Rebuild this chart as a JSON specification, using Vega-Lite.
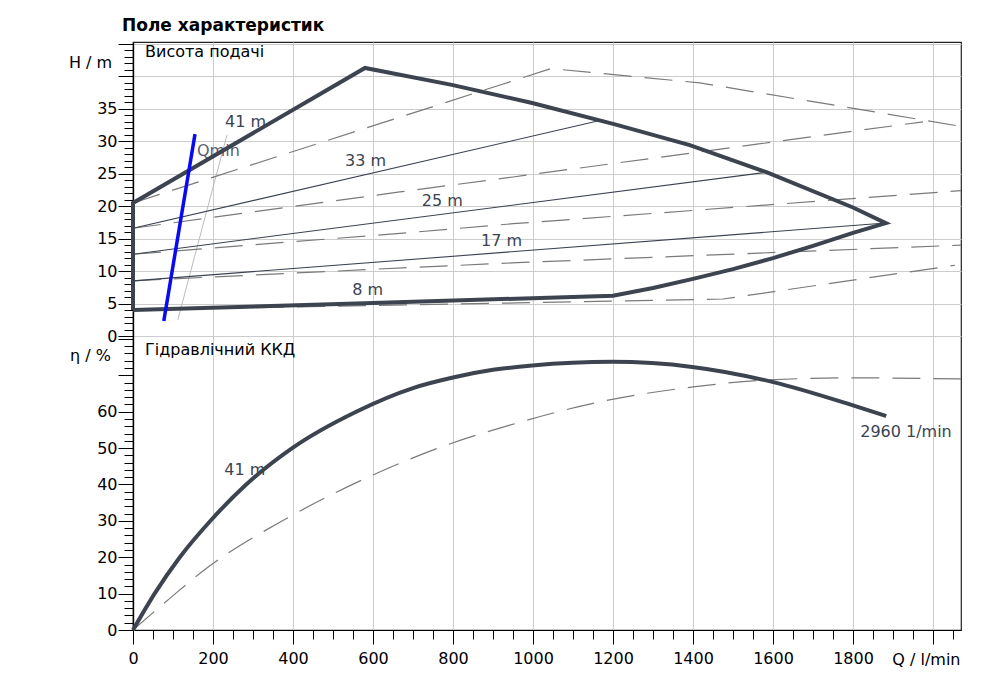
{
  "$schema": "https://vega.github.io/schema/vega-lite/v6.json",
  "width": 828,
  "height": 588,
  "autosize": "none",
  "padding": {"left": 133, "top": 42, "right": 44, "bottom": 66},
  "title": {
    "text": "Поле характеристик",
    "anchor": "start",
    "frame": "group",
    "font": "DejaVu Sans",
    "fontSize": 17,
    "fontWeight": "bold",
    "color": "#000000",
    "baseline": "alphabetic",
    "dx": -11,
    "dy": 24,
    "offset": 12
  },
  "datasets": {
    "outline": [
      {"o": 1, "q": 0, "h": 4.0},
      {"o": 2, "q": 0, "h": 20.5},
      {"o": 3, "q": 580, "h": 41.3},
      {"o": 4, "q": 797, "h": 38.7},
      {"o": 5, "q": 998, "h": 35.9},
      {"o": 6, "q": 1205, "h": 32.6},
      {"o": 7, "q": 1392, "h": 29.4},
      {"o": 8, "q": 1585, "h": 25.2},
      {"o": 9, "q": 1800, "h": 19.8},
      {"o": 10, "q": 1882, "h": 17.4},
      {"o": 11, "q": 1800, "h": 15.9},
      {"o": 12, "q": 1700, "h": 13.9},
      {"o": 13, "q": 1600, "h": 12.0},
      {"o": 14, "q": 1500, "h": 10.3},
      {"o": 15, "q": 1400, "h": 8.8},
      {"o": 16, "q": 1300, "h": 7.4},
      {"o": 17, "q": 1200, "h": 6.2},
      {"o": 18, "q": 600, "h": 5.1},
      {"o": 19, "q": 0, "h": 4.0}
    ],
    "thin": [
      {"s": "a", "q": 0, "h": 16.6},
      {"s": "a", "q": 1167, "h": 33.2},
      {"s": "b", "q": 0, "h": 12.6},
      {"s": "b", "q": 1580, "h": 25.2},
      {"s": "c", "q": 0, "h": 8.5},
      {"s": "c", "q": 1882, "h": 17.4}
    ],
    "dashed": [
      {"s": "d1", "q": 0, "h": 20.5},
      {"s": "d1", "q": 1045, "h": 41.2},
      {"s": "d1", "q": 1417, "h": 39.0},
      {"s": "d1", "q": 1750, "h": 35.6},
      {"s": "d1", "q": 2070, "h": 32.3},
      {"s": "d2", "q": 0, "h": 16.6},
      {"s": "d2", "q": 667, "h": 22.2},
      {"s": "d2", "q": 950, "h": 24.5},
      {"s": "d2", "q": 1975, "h": 33.0},
      {"s": "d3", "q": 0, "h": 12.6},
      {"s": "d3", "q": 685, "h": 15.9},
      {"s": "d3", "q": 950, "h": 17.3},
      {"s": "d3", "q": 2070, "h": 22.4},
      {"s": "d4", "q": 0, "h": 8.5},
      {"s": "d4", "q": 675, "h": 10.5},
      {"s": "d4", "q": 960, "h": 11.3},
      {"s": "d4", "q": 2070, "h": 14.0},
      {"s": "d5", "q": 0, "h": 4.0},
      {"s": "d5", "q": 960, "h": 5.1},
      {"s": "d5", "q": 1475, "h": 5.7},
      {"s": "d5", "q": 2055, "h": 10.9}
    ],
    "qminGray": [
      {"q": 112, "h": 2.5},
      {"q": 235, "h": 31.0}
    ],
    "qmin": [
      {"q": 77, "h": 2.3},
      {"q": 155, "h": 31.1}
    ],
    "topLabels": [
      {"q": 230, "h": 33.0, "t": "41 m"},
      {"q": 530, "h": 27.0, "t": "33 m"},
      {"q": 722, "h": 20.8, "t": "25 m"},
      {"q": 870, "h": 14.6, "t": "17 m"},
      {"q": 548, "h": 7.1, "t": "8 m"}
    ],
    "qminLabel": [
      {"q": 160, "h": 28.5, "t": "Qmin"}
    ],
    "topTitle": [
      {"q": 30, "h": 43.8, "t": "Висота подачі"}
    ],
    "eff": [
      {"q": 0, "eta": 0},
      {"q": 54, "eta": 10},
      {"q": 117, "eta": 20},
      {"q": 196, "eta": 30.3},
      {"q": 283, "eta": 40},
      {"q": 398, "eta": 50},
      {"q": 558, "eta": 60},
      {"q": 700, "eta": 66.5},
      {"q": 800, "eta": 69.4},
      {"q": 900, "eta": 71.5},
      {"q": 998, "eta": 72.7},
      {"q": 1198, "eta": 73.7},
      {"q": 1398, "eta": 72.3},
      {"q": 1598, "eta": 68.2},
      {"q": 1798, "eta": 61.8},
      {"q": 1883, "eta": 58.8}
    ],
    "effDash": [
      {"q": 0, "eta": 0},
      {"q": 92, "eta": 8.7},
      {"q": 183, "eta": 16.9},
      {"q": 388, "eta": 30.9},
      {"q": 604, "eta": 42.8},
      {"q": 783, "eta": 50.8},
      {"q": 942, "eta": 56.3},
      {"q": 1167, "eta": 62.7},
      {"q": 1400, "eta": 66.8},
      {"q": 1585, "eta": 68.7},
      {"q": 1800, "eta": 69.3},
      {"q": 2070, "eta": 69.0}
    ],
    "bottomLabels": [
      {"q": 228, "eta": 44.0, "t": "41 m"},
      {"q": 1818, "eta": 54.4, "t": "2960 1/min"}
    ],
    "bottomTitle": [
      {"q": 30, "eta": 77.0, "t": "Гідравлічний ККД"}
    ]
  },
  "encoding": {
    "x": {
      "field": "q",
      "type": "quantitative",
      "scale": {"domain": [0, 2070], "nice": false, "zero": false},
      "axis": {
        "values": [0, 50, 100, 150, 200, 250, 300, 350, 400, 450, 500, 550, 600, 650, 700, 750, 800, 850, 900, 950, 1000, 1050, 1100, 1150, 1200, 1250, 1300, 1350, 1400, 1450, 1500, 1550, 1600, 1650, 1700, 1750, 1800, 1850, 1900, 1950, 2000, 2050],
        "format": "d",
        "labelExpr": "datum.value % 200 === 0 && datum.value <= 1800 ? datum.label : ''",
        "tickSize": {"condition": {"test": "datum.value % 200 === 0", "value": 14}, "value": 9},
        "gridOpacity": {"condition": {"test": "datum.value % 200 === 0", "value": 1}, "value": 0},
        "labelOverlap": false,
        "labelFlush": false,
        "labelPadding": 6,
        "title": "Q / l/min",
        "titleX": 827,
        "titleY": 34,
        "titleAlign": "right",
        "titleBaseline": "alphabetic"
      }
    }
  },
  "layer": [
    {
      "encoding": {
        "y": {
          "field": "h",
          "type": "quantitative",
          "scale": {"domain": [-45.3, 45.3], "nice": false, "zero": false},
          "axis": {
            "orient": "left",
            "values": [0, 1, 2, 3, 4, 5, 6, 7, 8, 9, 10, 11, 12, 13, 14, 15, 16, 17, 18, 19, 20, 21, 22, 23, 24, 25, 26, 27, 28, 29, 30, 31, 32, 33, 34, 35, 36, 37, 38, 39, 40, 41, 42, 43, 44, 45],
            "labelExpr": "datum.value % 5 === 0 && datum.value <= 35 ? datum.label : ''",
            "tickSize": {"condition": {"test": "datum.value % 5 === 0", "value": 15}, "value": 9},
            "gridOpacity": {"condition": {"test": "datum.value % 5 === 0", "value": 1}, "value": 0},
            "labelOverlap": false,
            "labelFlush": false,
            "labelPadding": 1,
            "title": "H / m",
            "titleAngle": 0,
            "titleX": -43,
            "titleY": 20,
            "titleAlign": "center",
            "titleBaseline": "middle"
          }
        }
      },
      "layer": [
        {
          "data": {"name": "qminGray"},
          "mark": {"type": "line", "color": "#b4b4b4", "strokeWidth": 0.9}
        },
        {
          "data": {"name": "dashed"},
          "mark": {"type": "line", "color": "#7a7a7a", "strokeWidth": 1.2, "strokeDash": [28, 13]},
          "encoding": {"detail": {"field": "s"}}
        },
        {
          "data": {"name": "thin"},
          "mark": {"type": "line", "color": "#3a4250", "strokeWidth": 1.1},
          "encoding": {"detail": {"field": "s"}}
        },
        {
          "data": {"name": "topLabels"},
          "mark": {"type": "text", "align": "left", "baseline": "middle", "font": "DejaVu Sans", "fontSize": 16, "color": "#3a4352"},
          "encoding": {"text": {"field": "t"}}
        },
        {
          "data": {"name": "qminLabel"},
          "mark": {"type": "text", "align": "left", "baseline": "middle", "font": "DejaVu Sans", "fontSize": 16, "color": "#5a616b"},
          "encoding": {"text": {"field": "t"}}
        },
        {
          "data": {"name": "topTitle"},
          "mark": {"type": "text", "align": "left", "baseline": "middle", "font": "DejaVu Sans", "fontSize": 16, "color": "#000000"},
          "encoding": {"text": {"field": "t"}}
        },
        {
          "data": {"name": "outline"},
          "mark": {"type": "line", "color": "#3d4450", "strokeWidth": 4},
          "encoding": {"order": {"field": "o", "type": "quantitative"}}
        },
        {
          "data": {"name": "qmin"},
          "mark": {"type": "line", "color": "#0a0af0", "strokeWidth": 3.5}
        },
        {
          "data": {"values": [{}]},
          "mark": {"type": "rule", "color": "#222222", "strokeWidth": 1.3},
          "encoding": {
            "x": {"datum": 0},
            "x2": {"datum": 2070},
            "y": {"datum": 0}
          }
        }
      ]
    },
    {
      "encoding": {
        "y": {
          "field": "eta",
          "type": "quantitative",
          "scale": {"domain": [0, 161.6], "nice": false, "zero": false},
          "axis": {
            "orient": "left",
            "values": [0, 2, 4, 6, 8, 10, 12, 14, 16, 18, 20, 22, 24, 26, 28, 30, 32, 34, 36, 38, 40, 42, 44, 46, 48, 50, 52, 54, 56, 58, 60, 62, 64, 66, 68, 70, 72, 74, 76, 78, 80],
            "labelExpr": "datum.value % 10 === 0 && datum.value <= 60 ? datum.label : ''",
            "tickSize": {"condition": {"test": "datum.value % 10 === 0", "value": 15}, "value": 9},
            "gridOpacity": {"condition": {"test": "datum.value % 10 === 0", "value": 1}, "value": 0},
            "labelOverlap": false,
            "labelFlush": false,
            "labelPadding": 1,
            "title": "η / %",
            "titleAngle": 0,
            "titleX": -43,
            "titleY": 313,
            "titleAlign": "center",
            "titleBaseline": "middle"
          }
        }
      },
      "layer": [
        {
          "data": {"name": "effDash"},
          "mark": {"type": "line", "color": "#7a7a7a", "strokeWidth": 1.2, "strokeDash": [28, 13], "interpolate": "monotone"}
        },
        {
          "data": {"name": "bottomLabels"},
          "mark": {"type": "text", "align": "left", "baseline": "middle", "font": "DejaVu Sans", "fontSize": 16, "color": "#3a4352"},
          "encoding": {"text": {"field": "t"}}
        },
        {
          "data": {"name": "bottomTitle"},
          "mark": {"type": "text", "align": "left", "baseline": "middle", "font": "DejaVu Sans", "fontSize": 16, "color": "#000000"},
          "encoding": {"text": {"field": "t"}}
        },
        {
          "data": {"name": "eff"},
          "mark": {"type": "line", "color": "#3d4450", "strokeWidth": 4, "interpolate": "monotone"}
        }
      ]
    }
  ],
  "resolve": {"scale": {"y": "independent"}},
  "config": {
    "view": {"stroke": "#222222", "strokeWidth": 1.2},
    "axis": {
      "domainColor": "#000000",
      "domainWidth": 1.2,
      "tickColor": "#000000",
      "tickWidth": 1,
      "grid": true,
      "gridColor": "#cccccc",
      "gridWidth": 1,
      "labelFont": "DejaVu Sans",
      "labelFontSize": 16,
      "labelColor": "#000000",
      "titleFont": "DejaVu Sans",
      "titleFontSize": 16,
      "titleFontWeight": "normal",
      "titleColor": "#000000"
    }
  }
}
